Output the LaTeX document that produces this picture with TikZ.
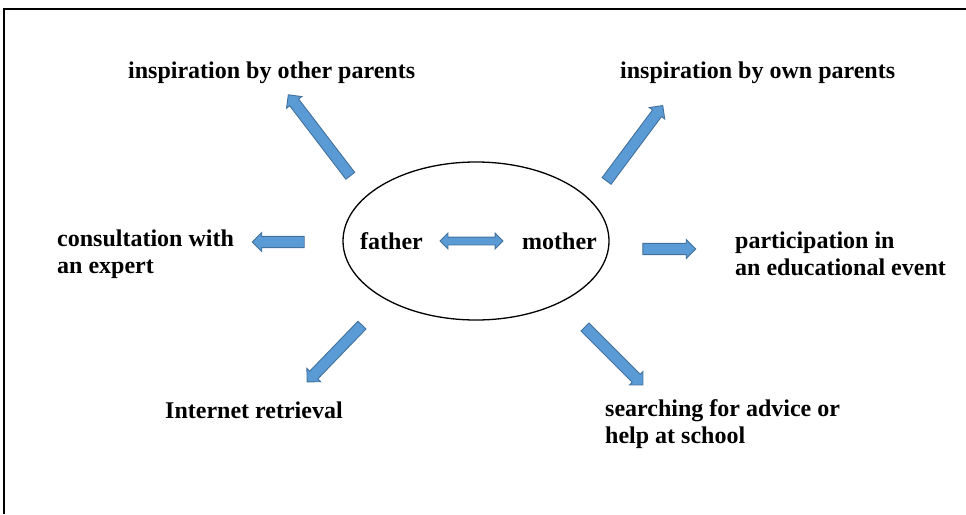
\documentclass[tikz,border=0pt]{standalone}
\usepackage{fontspec}
\setmainfont{Liberation Serif}
\usetikzlibrary{shapes.geometric, shapes.arrows}

\definecolor{arrowfill}{HTML}{5B9BD5}
\definecolor{arrowline}{HTML}{41719C}

\begin{document}
\begin{tikzpicture}[x=1pt, y=-1pt,
		every node/.style={font=\fontsize{24}{27}\selectfont\bfseries},
		label/.style={align=left, inner sep=0pt},
		blockarrow/.style={single arrow, draw=arrowline, fill=arrowfill, line width=0.9pt,
			inner xsep=0pt, inner ysep=3.5pt, single arrow head extend=4pt,
			single arrow head indent=0pt, shape border uses incircle},
		dblarrow/.style={double arrow, draw=arrowline, fill=arrowfill, line width=0.9pt,
			inner xsep=0pt, inner ysep=3.5pt, double arrow head extend=4pt,
			double arrow head indent=0pt}]
		
		% Page size and frame
		\useasboundingbox (0,0) rectangle (966,514);
		\draw[line width=2pt] (4,514) -- (4,9) -- (966,9);
		
		% Parents
		\node[draw, ellipse, line width=1.3pt, minimum width=266, minimum height=158] (parents) at (476,241) {};
		\node[label, anchor=west] (father) at (360,241) {father};
		\node[label, anchor=west] (mother) at (522,241) {mother};
		\node[dblarrow, minimum height=63] (between) at (471.5,241) {};
		
		% Sources of inspiration
		\node[label, anchor=west] (other) at (128,73) {inspiration by other parents};
		\node[label, anchor=west] (own) at (620,73) {inspiration by own parents};
		\node[label, anchor=north west] (expert) at (57,230) {consultation with\\an expert};
		\node[label, anchor=north west] (event) at (735,232) {participation in\\an educational event};
		\node[label, anchor=west] (internet) at (165,410) {Internet retrieval};
		\node[label, anchor=north west] (school) at (605,399) {searching for advice or\\help at school};
		
		% Block arrows out of the ellipse
		\node[blockarrow, minimum height=102, rotate=127.4] (toother) at (321,137.5) {};
		\node[blockarrow, minimum height=94, rotate=53.3] (toown) at (633,145.5) {};
		\node[blockarrow, minimum height=52, rotate=180] (toexpert) at (281,242) {};
		\node[blockarrow, minimum height=53, rotate=0] (toevent) at (666.5,249) {};
		\node[blockarrow, minimum height=79, rotate=226] (tointernet) at (336.5,351.5) {};
		\node[blockarrow, minimum height=82, rotate=-45] (toschool) at (612,354) {};
		
\end{tikzpicture}
\end{document}
